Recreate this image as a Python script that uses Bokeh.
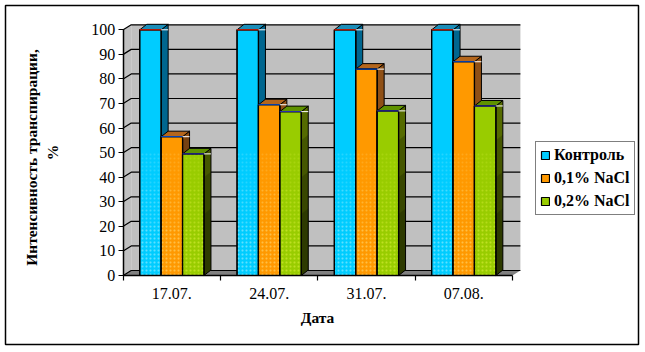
from bokeh.embed import file_html
from bokeh.resources import INLINE
from bokeh.plotting import figure
from bokeh.models import (Range1d, LinearAxis, FixedTicker, Legend, LegendItem, Label)

dates = ["17.07.", "24.07.", "31.07.", "07.08."]
control = [100, 100, 100, 100]
nacl_01 = [56.5, 69.5, 84, 87]
nacl_02 = [49.5, 66.7, 67, 69]
series_names = ["Контроль", "0,1% NaCl", "0,2% NaCl"]
y_ticks = list(range(0, 101, 10))

FRONT = ["#00CCFF", "#FF9900", "#99CC00"]
SIDE = ["#00668F", "#8F5016", "#556B00"]
TOP = ["#1B8DB8", "#B4661C", "#5F9200"]
DOTS = ["#B0F0FF", "#FFE080", "#E0F040"]
EDGE = ["#FF2000", "#0050E0", "#3030C0"]

# pixel calibration of the plot box
X0, XS = 122.7, 97.3
Y0, YS = 275.0, 2.457
def dx(px): return (px - X0) / XS
def dy(py): return (Y0 - py) / YS

W, H = 645, 352
L, R, T, B = 5, 638, 5, 344
p = figure(width=W, height=H, output_backend="svg", toolbar_location=None,
           x_range=Range1d(dx(L), dx(R)), y_range=Range1d(dy(B), dy(T)),
           x_axis_type=None, y_axis_type=None,
           min_border_left=L, min_border_right=W - R, min_border_top=T, min_border_bottom=H - B,
           background_fill_color="white", border_fill_color="white",
           outline_line_color="black", outline_line_width=1.5)
p.xgrid.visible = False
p.ygrid.visible = False

n = len(dates)
DX = 8 / XS      # depth of the box
DY = 5 / YS

# walls
p.patch([0, DX, DX, 0], [0, DY, 100 + DY, 100], fill_color="#C0C0C0", line_color=None)
p.patch([DX, n + DX, n + DX, DX], [DY, DY, 100 + DY, 100 + DY], fill_color="#C0C0C0", line_color=None)
p.patch([0, n, n + DX, DX], [0, 0, DY, DY], fill_color="#808080", line_color=None)
# gridlines
for t in y_ticks:
    p.line([0, DX, n + DX], [t, t + DY, t + DY], line_color="black", line_width=1.2)

# bars
BW = 0.22
DDX = 7 / XS
DDY = 5.5 / YS
legend_items = []
for s, vals in enumerate([control, nacl_01, nacl_02]):
    lefts = [i + 0.5 + (s - 1.5) * BW for i in range(n)]
    rights = [l + BW for l in lefts]
    side_x = [[r, r + DDX, r + DDX, r] for r in rights]
    side_y = [[0, DDY, v + DDY, v] for v in vals]
    top_x = [[l, l + DDX, r + DDX, r] for l, r in zip(lefts, rights)]
    top_y = [[v, v + DDY, v + DDY, v] for v in vals]
    p.patches(side_x, side_y, fill_color=SIDE[s], line_color=None)
    for lvl, a in [(55, 0.18), (40, 0.18), (25, 0.18)]:
        shade_y = [[0, DDY, min(lvl, v) + DDY, min(lvl, v)] for v in vals]
        p.patches(side_x, shade_y, fill_color="black", fill_alpha=a, line_color=None)
    p.patches(side_x, side_y, fill_alpha=0, line_color="black", line_width=1)
    p.patches(top_x, top_y, fill_color=TOP[s], line_color="black", line_width=1)
    rr = p.quad(left=lefts, right=rights, bottom=[0] * n, top=vals,
                fill_color=FRONT[s], line_color="black", line_width=1.2)
    for lvl, a in [(50, 0.22), (35, 0.22), (20, 0.25)]:
        p.quad(left=lefts, right=rights, bottom=[0] * n, top=[min(lvl, v) for v in vals],
               fill_alpha=0, line_color=None,
               hatch_pattern="dot", hatch_color=DOTS[s], hatch_alpha=a, hatch_scale=4, hatch_weight=1)
    p.quad(left=lefts, right=rights, bottom=[0] * n, top=vals,
           fill_alpha=0, line_color="black", line_width=1.2)
    p.segment(x0=lefts, x1=rights, y0=vals, y1=vals, line_color=EDGE[s], line_width=1)
    p.segment(x0=rights, x1=[r + DDX for r in rights], y0=vals, y1=vals, line_color="white", line_width=1)
    legend_items.append(LegendItem(label=series_names[s], renderers=[rr]))

# axes
font = "Liberation Serif"
yax = LinearAxis(fixed_location=0, ticker=FixedTicker(ticks=y_ticks), bounds=(0, 100),
                 major_label_text_font=font, major_label_text_font_size="16px",
                 major_label_text_color="black", major_tick_in=0, major_tick_out=5,
                 minor_tick_line_color=None, major_tick_line_width=1.2,
                 axis_line_width=1.5, major_label_standoff=3)
p.add_layout(yax, "left")
xax = LinearAxis(fixed_location=0,
                 ticker=FixedTicker(ticks=[i + 0.5 for i in range(n)], minor_ticks=list(range(n + 1))),
                 bounds=(0, n),
                 major_label_overrides={i + 0.5: d for i, d in enumerate(dates)},
                 major_label_text_font=font, major_label_text_font_size="16px",
                 major_label_text_color="black",
                 major_tick_line_color=None, major_tick_in=0, major_tick_out=0,
                 minor_tick_in=0, minor_tick_out=5, minor_tick_line_color="black", minor_tick_line_width=1.2,
                 axis_line_width=1.5, major_label_standoff=7)
p.add_layout(xax, "below")

# titles
tkw = dict(text_font=font, text_font_style="bold", text_font_size="15.5px", text_color="black",
           text_align="center", text_baseline="middle")
p.add_layout(Label(x=dx(30.5), y=dy(157), angle=90, angle_units="deg",
                   text="Интенсивность транспирации,", **tkw))
p.add_layout(Label(x=dx(52), y=dy(152), angle=90, angle_units="deg", text="%", **tkw))
p.add_layout(Label(x=dx(317), y=dy(317), text="Дата", **tkw))

# legend
leg = Legend(items=legend_items, location=(530, 129), orientation="vertical",
             label_text_font=font, label_text_font_style="bold", label_text_font_size="16px",
             label_text_color="black", glyph_width=10, glyph_height=10, spacing=5,
             padding=4, margin=0, label_standoff=4, border_line_color="black", border_line_width=1.5,
             background_fill_color="white", background_fill_alpha=1)
p.add_layout(leg, "center")

open("out.html", "w").write(file_html(p, INLINE))
